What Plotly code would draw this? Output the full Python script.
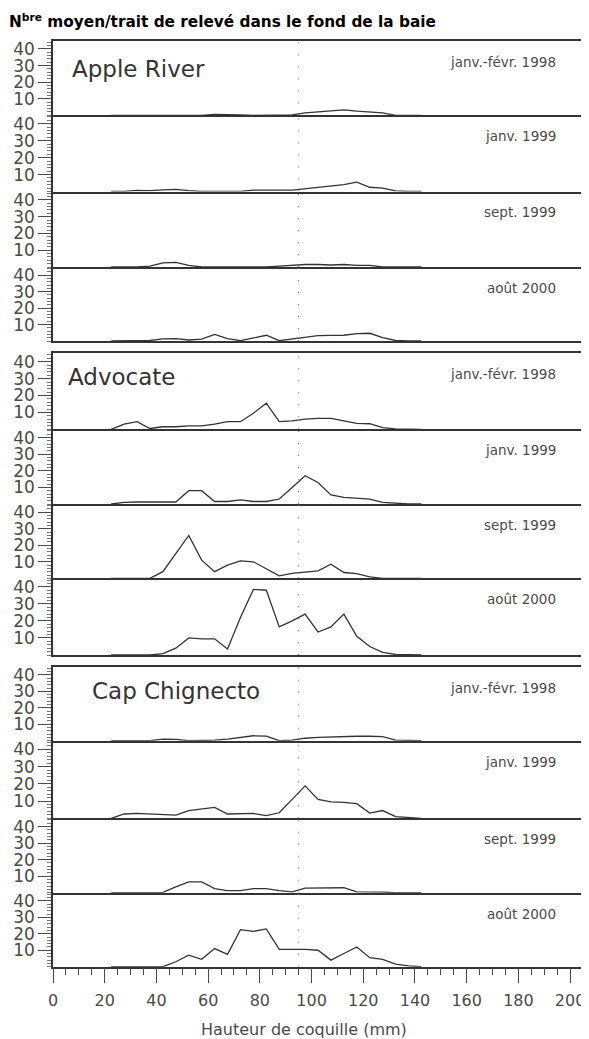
import plotly.graph_objects as go

# Shell-height class midpoints (mm)
sizes = [22.5, 27.5, 32.5, 37.5, 42.5, 47.5, 52.5, 57.5, 62.5, 67.5, 72.5, 77.5, 82.5,
         87.5, 92.5, 97.5, 102.5, 107.5, 112.5, 117.5, 122.5, 127.5, 132.5, 137.5, 142.5]

# Apple River
apple_jf98 = [0, 0, 0, 0, 0, 0, 0, 0, 0.5, 0.5, 0.3, 0, 0, 0, 0.3, 1.5, 2.2, 2.8, 3.3, 2.5, 2.2, 1.5, 0, 0, 0]
apple_j99 = [0, 0, 0.7, 0.5, 1, 1.2, 0.5, 0, 0, 0, 0, 0.8, 1, 0.8, 0.8, 1.5, 2.5, 3.3, 4, 5.5, 2.5, 2, 0.4, 0, 0]
apple_s99 = [0, 0, 0, 0.5, 2.5, 2.8, 1, 0, 0, 0, 0, 0, 0, 0.5, 1, 1.5, 1.5, 1.2, 1.5, 1, 1, 0, 0, 0, 0]
apple_a00 = [0, 0, 0, 0.3, 1.3, 1.5, 0.6, 1.2, 4, 1.5, 0.2, 1.8, 3.5, 0.2, 1.2, 2.2, 3.3, 3.4, 3.5, 4.5, 4.7, 2, 0.3, 0, 0]

# Advocate
adv_jf98 = [0, 3, 4.5, 0.5, 1.5, 1.5, 2, 2, 3, 4.5, 4.5, 9.5, 15.5, 4.5, 5, 6, 6.5, 6.5, 5, 3.5, 3.3, 1, 0.3, 0, 0]
adv_j99 = [0, 1, 1.2, 1.2, 1.2, 1.2, 8, 8, 1.5, 1.5, 2.5, 1.5, 1.5, 3, 10, 17, 13, 5.5, 4, 3.5, 3, 1, 0.5, 0, 0]
adv_s99 = [0, 0, 0, 0, 4, 15, 26, 11, 4, 8, 10.5, 10, 5.5, 1.5, 3, 3.7, 4.5, 8.5, 3.5, 2.8, 0.8, 0, 0, 0, 0]
adv_a00 = [0, 0, 0, 0, 0.8, 4, 10, 9.5, 9.5, 3.5, 22, 38.5, 38, 16.5, 20, 24, 13.5, 16.5, 24, 11, 5, 1.5, 0.3, 0, 0]

# Cap Chignecto
cap_jf98 = [0, 0, 0, 0, 1, 0.8, 0, 0, 0.3, 1, 2, 3, 2.8, 0, 0.3, 1.5, 2, 2.3, 2.7, 2.7, 2.7, 2.5, 0.4, 0, 0]
cap_j99 = [0, 2.5, 2.8, 2.5, 2, 1.8, 4.5, 5.5, 6.3, 2.5, 2.8, 2.8, 1.5, 3.2, 11, 18.8, 11, 9.5, 9.2, 8.5, 3, 4.5, 1, 0.3, 0]
cap_s99 = [0, 0, 0, 0.3, 0.2, 3.5, 6.5, 6.5, 2.5, 1.2, 1.2, 2.5, 2.5, 1.2, 0.5, 2.8, 3, 3, 3, 0.5, 0.5, 0.3, 0, 0, 0]
cap_a00 = [0, 0, 0, 0, 0, 3, 7, 4.5, 11, 7.5, 22.5, 21.5, 23, 10.5, 10.5, 10.5, 10, 4, 8, 12, 5.5, 4.5, 1.5, 0.5, 0]

sites = ["Apple River", "Advocate", "Cap Chignecto"]
periods = ["janv.-févr. 1998", "janv. 1999", "sept. 1999", "août 2000"]
series = [apple_jf98, apple_j99, apple_s99, apple_a00,
          adv_jf98, adv_j99, adv_s99, adv_a00,
          cap_jf98, cap_j99, cap_s99, cap_a00]

ref_size = 95
y_ticks = [10, 20, 30, 40]
x_ticks = [0, 20, 40, 60, 80, 100, 120, 140, 160, 180, 200]

# The page body adds an 8 px margin, so the figure is placed 8 px in from the
# top-left corner; positions below are given in window pixels and shifted.
OFF = 8
W, H = 589 - OFF, 1039 - OFF


def fx(px):
    return (px - OFF) / W


def fy(py):
    return 1 - (py - OFF) / H


# panel window-pixel boundaries (top, bottom)
panels_px = [(40.7, 115.3), (115.3, 191.5), (191.5, 267.0), (267.0, 341.0),
             (353.3, 429.3), (429.3, 504.0), (504.0, 578.3), (578.3, 655.0),
             (666.7, 740.7), (740.7, 818.3), (818.3, 892.7), (892.7, 966.7)]
x_left, x_right = 53, 582
site_label_pos = [(70, 69), (66, 377), (90, 691)]

FONT = "DejaVu Sans, Arial, sans-serif"
LINE = "#333333"
TXT = "#4a4a4a"

fig = go.Figure()
layout = {}
annotations = []

for k, ys in enumerate(series):
    n = k + 1
    xa = "x" if n == 1 else f"x{n}"
    ya = "y" if n == 1 else f"y{n}"
    xkey = "xaxis" if n == 1 else f"xaxis{n}"
    ykey = "yaxis" if n == 1 else f"yaxis{n}"
    top, bot = panels_px[k]

    fig.add_trace(go.Scatter(x=[ref_size, ref_size], y=[0, 45], mode="lines",
                             line=dict(color="#8a8a8a", width=1.2, dash="1px,11px"),
                             xaxis=xa, yaxis=ya, hoverinfo="skip", showlegend=False))
    fig.add_trace(go.Scatter(x=sizes, y=ys, mode="lines",
                             line=dict(color=LINE, width=1.3),
                             xaxis=xa, yaxis=ya, showlegend=False))

    is_bottom = (k == len(series) - 1)
    is_group_top = (k % 4 == 0)
    xa_cfg = dict(domain=[fx(x_left), fx(x_right)], range=[0, 204.6], anchor=ya,
                  showline=True, mirror=is_group_top, linecolor=LINE, linewidth=1.5,
                  showgrid=False, zeroline=False, fixedrange=True, automargin=False)
    if is_bottom:
        xa_cfg.update(ticks="outside", ticklen=15, tickwidth=1.2, tickcolor=TXT,
                      tickvals=x_ticks, ticktext=[str(v) for v in x_ticks],
                      tickfont=dict(family=FONT, size=16, color=TXT),
                      ticklabelstandoff=3,
                      minor=dict(dtick=5, tick0=0, ticklen=7, ticks="outside",
                                 tickcolor=TXT, tickwidth=1.2))
    else:
        xa_cfg.update(ticks="", showticklabels=False)
    layout[xkey] = xa_cfg

    layout[ykey] = dict(domain=[fy(bot), fy(top)], range=[0, 45], anchor=xa,
                        showline=True, mirror=True, linecolor=LINE, linewidth=1.5,
                        showgrid=False, zeroline=False, fixedrange=True, automargin=False,
                        ticks="outside", ticklen=13, tickwidth=1.2, tickcolor=TXT,
                        tickvals=y_ticks, ticktext=[str(v) for v in y_ticks],
                        tickfont=dict(family=FONT, size=17, color=TXT),
                        minor=dict(dtick=2, tick0=0, ticklen=4, ticks="outside",
                                   tickcolor="#777777", tickwidth=1))

    annotations.append(dict(text=periods[k % 4], xref="paper", yref="paper",
                            x=fx(558), y=fy(top + 21), xanchor="right", yanchor="middle",
                            showarrow=False, font=dict(family=FONT, size=13.5, color=TXT)))

for (lx, ly), name in zip(site_label_pos, sites):
    annotations.append(dict(text=name, xref="paper", yref="paper", x=fx(lx), y=fy(ly),
                            xanchor="left", yanchor="middle", showarrow=False,
                            font=dict(family=FONT, size=23, color="#333333")))

annotations.append(dict(text="N<sup>bre</sup> moyen/trait de relevé dans le fond de la baie",
                        xref="paper", yref="paper", x=fx(7), y=fy(21),
                        xanchor="left", yanchor="middle", showarrow=False,
                        font=dict(family=FONT, size=15.3, color="#000000", weight="bold")))
annotations.append(dict(text="Hauteur de coquille (mm)", xref="paper", yref="paper",
                        x=fx(304), y=fy(1029), xanchor="center", yanchor="middle",
                        showarrow=False, font=dict(family=FONT, size=16, color=TXT)))

fig.update_layout(width=W, height=H, autosize=False,
                  margin=dict(l=0, r=0, t=0, b=0, autoexpand=False),
                  paper_bgcolor="white", plot_bgcolor="white",
                  showlegend=False, annotations=annotations, **layout)

fig.write_html("out.html")
